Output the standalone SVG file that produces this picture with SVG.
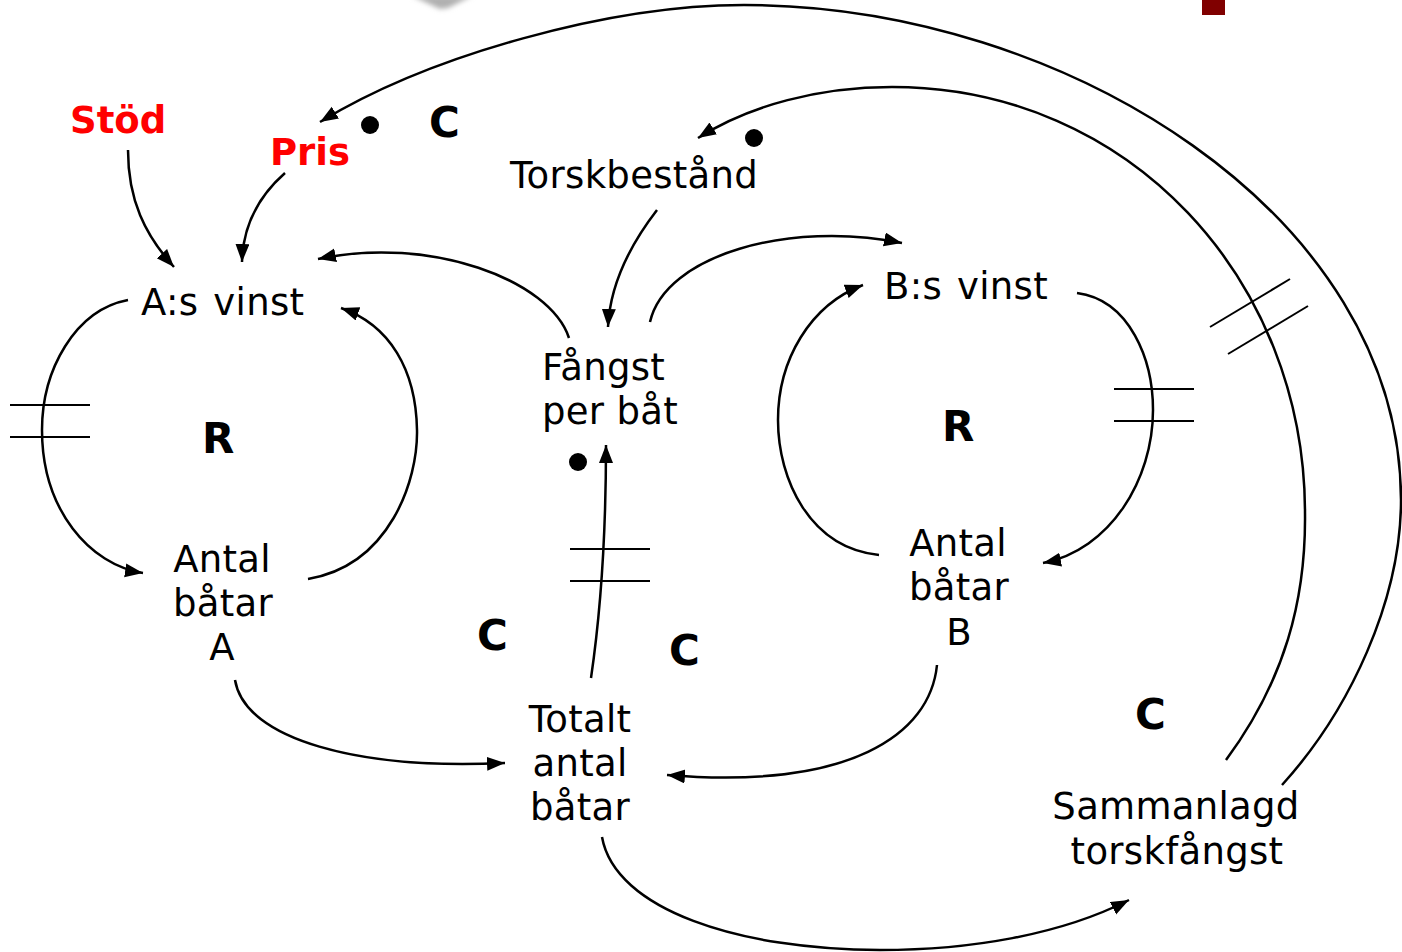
<svg xmlns="http://www.w3.org/2000/svg" width="1402" height="952" viewBox="0 0 1402 952">
<style>
  text { font-family: "DejaVu Sans", "Liberation Sans", sans-serif; fill: #000; }
  .lbl { font-size: 37px; letter-spacing: 0.3px; }
  .ws { word-spacing: 3px; }
  .red { font-size: 37px; font-weight: bold; fill: #ff0000; }
  .big { font-size: 42px; font-weight: bold; }
  .link { fill: none; stroke: #000; stroke-width: 2.5; }
  .arr { marker-end: url(#ah); }
  .hash { stroke: #000; stroke-width: 2; fill: none; }
  .dot { fill: #000; }
</style>
<defs>
  <marker id="ah" markerUnits="userSpaceOnUse" markerWidth="20" markerHeight="16" refX="18" refY="7" orient="auto">
    <path d="M0,0 L18,7 L0,14 Z" fill="#000"/>
  </marker>
  <filter id="blur" x="-50%" y="-50%" width="200%" height="200%">
    <feGaussianBlur stdDeviation="2.5"/>
  </filter>
</defs>
<rect width="1402" height="952" fill="#fff"/>
<g id="decor">
  <path d="M412,-4 L472,-4 L448,8 L440,9 Z" fill="#b0b0b0" filter="url(#blur)"/>
  <rect x="1202" y="0" width="23" height="15" fill="#800000"/>
</g>
<g id="connectors">
  <path class="link arr" d="M128,150 C128,200 145,235 174,267"/>
  <path class="link arr" d="M285,173 C260,195 243,225 242,262"/>
  <path class="link arr" d="M1282,785 C1350,710 1401,600 1401,500 C1401,215 1065,5 744,5 C610,5 430,55 320,122"/>
  <path class="link arr" d="M1226,760 C1285,680 1306,600 1305,513 C1305,280 1130,87 892,87 C820,87 750,105 698,138"/>
  <path class="link arr" d="M569,338 C550,280 430,235 318,259"/>
  <path class="link arr" d="M308,579 C390,565 418,480 417,430 C416,370 390,325 341,308"/>
  <path class="link arr" d="M128,300 C75,310 42,370 42,430 C42,510 90,565 143,573"/>
  <path class="link arr" d="M657,210 C630,245 610,285 608,327"/>
  <path class="link arr" d="M650,322 C665,255 790,220 902,243"/>
  <path class="link arr" d="M879,555 C810,548 778,480 778,420 C778,360 810,305 863,285"/>
  <path class="link arr" d="M1077,293 C1130,300 1153,360 1153,410 C1153,480 1110,550 1043,563"/>
  <path class="link arr" d="M591,678 C601,610 606,530 606,445"/>
  <path class="link arr" d="M235,680 C245,740 360,770 505,763"/>
  <path class="link arr" d="M937,665 C930,735 850,790 667,775"/>
  <path class="link arr" d="M602,837 C615,910 740,950 880,950 C970,950 1060,935 1129,900"/>
  <line class="hash" x1="10" y1="405" x2="90" y2="405"/>
  <line class="hash" x1="10" y1="437" x2="90" y2="437"/>
  <line class="hash" x1="1114" y1="389" x2="1194" y2="389"/>
  <line class="hash" x1="1114" y1="421" x2="1194" y2="421"/>
  <line class="hash" x1="570" y1="549" x2="650" y2="549"/>
  <line class="hash" x1="570" y1="581" x2="650" y2="581"/>
  <line class="hash" x1="1210" y1="327" x2="1290" y2="279"/>
  <line class="hash" x1="1228" y1="354" x2="1308" y2="306"/>
  <circle class="dot" cx="370" cy="125" r="9"/>
  <circle class="dot" cx="754" cy="138" r="9"/>
  <circle class="dot" cx="578" cy="462" r="9"/>
</g>
<g id="stod"><text class="red" x="70" y="133">Stöd</text></g>
<g id="pris"><text class="red" x="270" y="165">Pris</text></g>
<g id="torskbestand"><text class="lbl" x="510" y="188">Torskbestånd</text></g>
<g id="a-vinst"><text class="lbl ws" x="141" y="315">A:s vinst</text></g>
<g id="b-vinst"><text class="lbl ws" x="884" y="299">B:s vinst</text></g>
<g id="fangst"><text class="lbl" x="542" y="380">Fångst</text><text class="lbl" x="542" y="424">per båt</text></g>
<g id="antal-a"><text class="lbl" text-anchor="middle" x="222" y="572">Antal</text><text class="lbl" text-anchor="middle" x="223" y="616">båtar</text><text class="lbl" text-anchor="middle" x="222" y="660">A</text></g>
<g id="antal-b"><text class="lbl" text-anchor="middle" x="958" y="556">Antal</text><text class="lbl" text-anchor="middle" x="959" y="600">båtar</text><text class="lbl" text-anchor="middle" x="959" y="645">B</text></g>
<g id="totalt"><text class="lbl" text-anchor="middle" x="580" y="732">Totalt</text><text class="lbl" text-anchor="middle" x="580" y="776">antal</text><text class="lbl" text-anchor="middle" x="580" y="820">båtar</text></g>
<g id="sammanlagd"><text class="lbl" text-anchor="middle" x="1176" y="819">Sammanlagd</text><text class="lbl" text-anchor="middle" x="1177" y="864">torskfångst</text></g>
<g id="loop-labels">
  <text class="big" x="429" y="137">C</text>
  <text class="big" x="202" y="453">R</text>
  <text class="big" x="942" y="441">R</text>
  <text class="big" x="477" y="650">C</text>
  <text class="big" x="669" y="665">C</text>
  <text class="big" x="1135" y="729">C</text>
</g>
</svg>
